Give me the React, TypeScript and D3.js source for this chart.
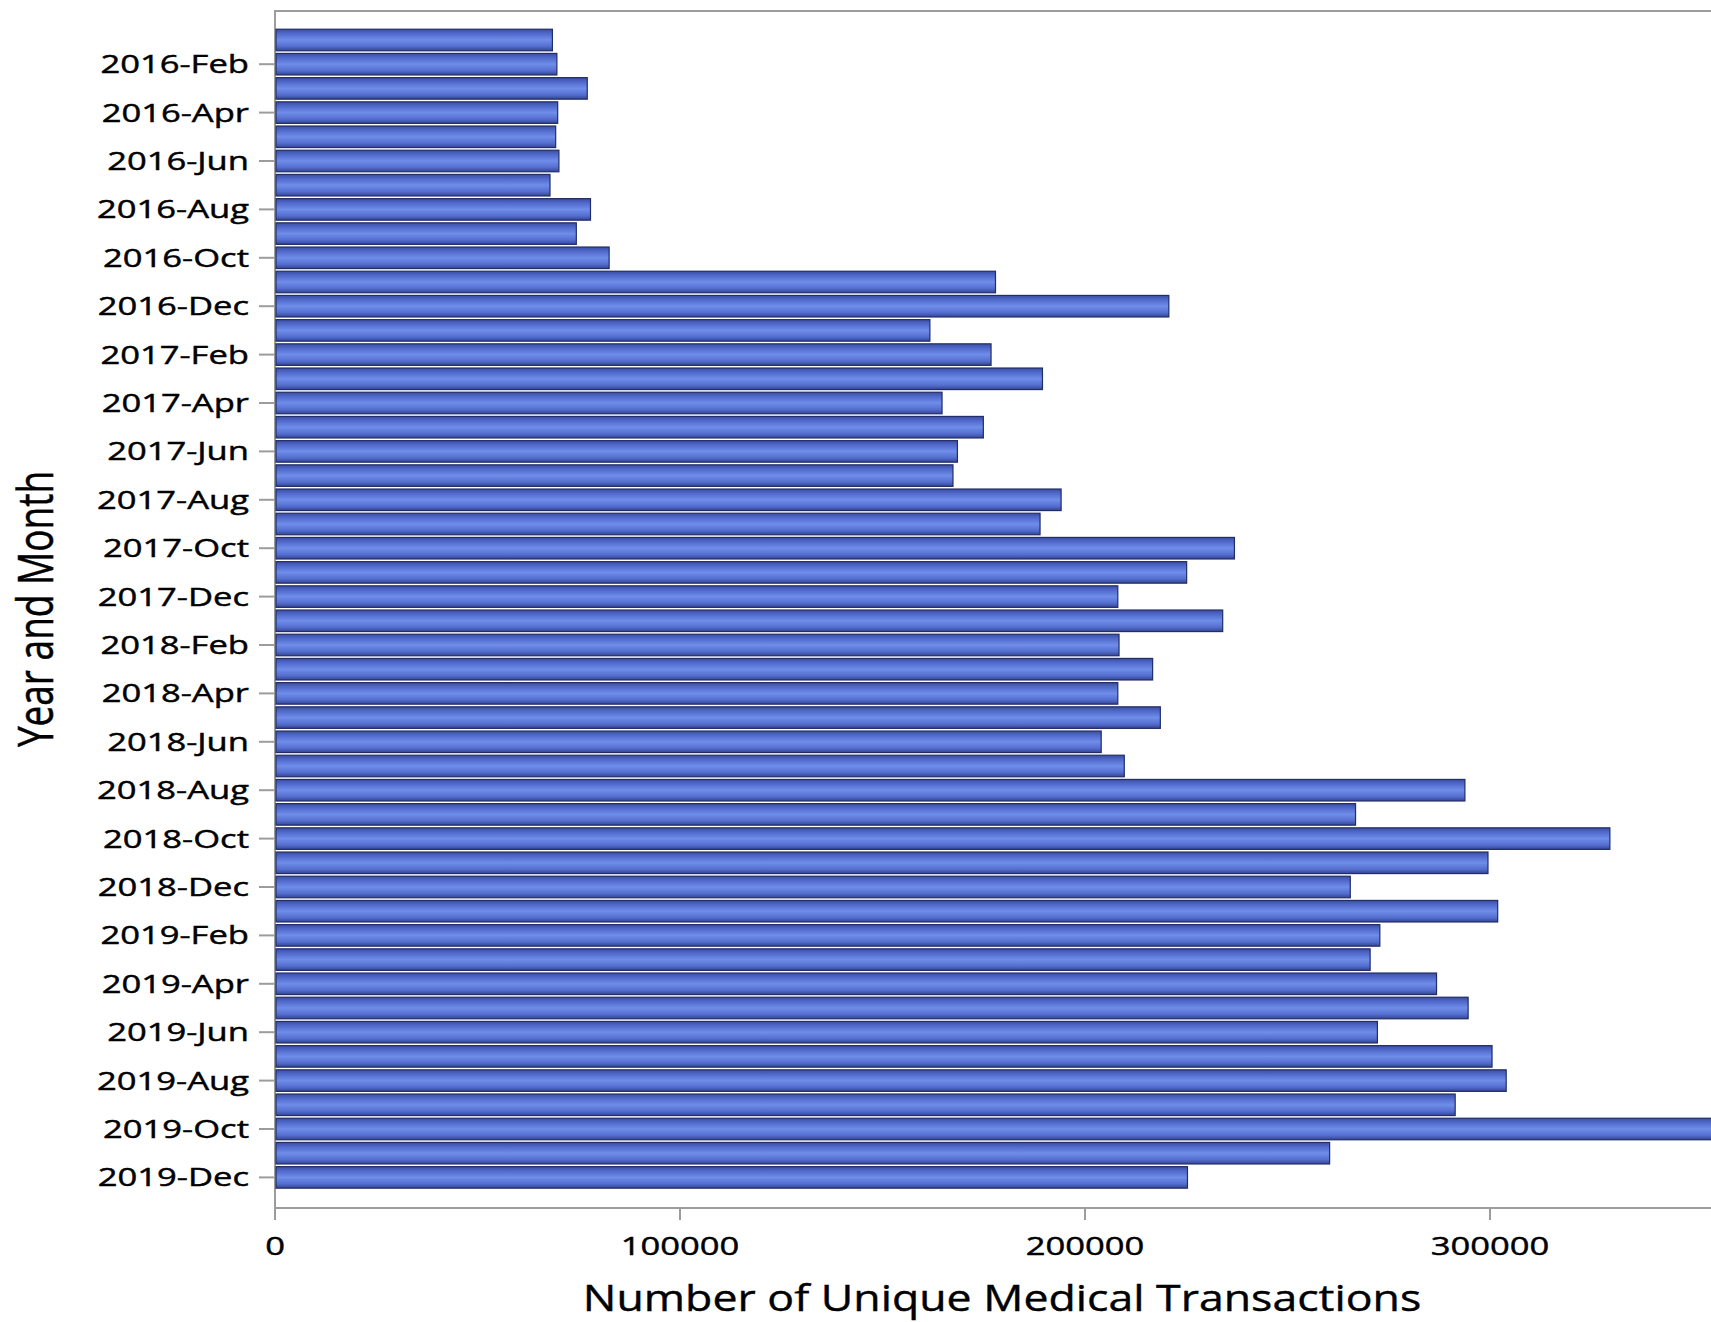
import React from "react";
import * as d3 from "d3";

const months: string[] = [
  "2016-Jan","2016-Feb","2016-Mar","2016-Apr","2016-May","2016-Jun","2016-Jul","2016-Aug","2016-Sep","2016-Oct","2016-Nov","2016-Dec",
  "2017-Jan","2017-Feb","2017-Mar","2017-Apr","2017-May","2017-Jun","2017-Jul","2017-Aug","2017-Sep","2017-Oct","2017-Nov","2017-Dec",
  "2018-Jan","2018-Feb","2018-Mar","2018-Apr","2018-May","2018-Jun","2018-Jul","2018-Aug","2018-Sep","2018-Oct","2018-Nov","2018-Dec",
  "2019-Jan","2019-Feb","2019-Mar","2019-Apr","2019-May","2019-Jun","2019-Jul","2019-Aug","2019-Sep","2019-Oct","2019-Nov","2019-Dec",
];

const transactions: number[] = [
  68500, 69600, 77100, 69800, 69300, 70100, 67900, 77900, 74400, 82500, 177900, 220700,
  161700, 176800, 189500, 164700, 174900, 168500, 167400, 194100, 188900, 236900, 225100, 208100,
  234000, 208400, 216700, 208100, 218600, 204000, 209700, 293800, 266800, 329600, 299500, 265500,
  301900, 272800, 270400, 286800, 294600, 272200, 300500, 304000, 291400, 372000, 260400, 225300,
];

const xTicks: number[] = [0, 100000, 200000, 300000];
const yTickLabels: string[] = months.filter((_, i) => i % 2 === 1);

const W = 1711;
const H = 1322;
const left = 275;
const top = 11;
const bottom = 1208;
const SX = 1.33;
const FONT = "'Open Sans', 'Noto Sans', sans-serif";
const AXIS = "#9c9c9c";

export default function App() {
  const x = d3.scaleLinear().domain([0, 100000]).range([left, left + 405]);
  const step = 24.2;
  const y = d3
    .scaleBand<string>()
    .domain(months)
    .range([40 - step / 2, 40 - step / 2 + months.length * step])
    .paddingInner(0.11)
    .paddingOuter(0.055);

  return (
    <svg
      width={W}
      height={H}
      style={{ position: "absolute", left: 0, top: 0, background: "#fff" }}
    >
      <defs>
        <linearGradient id="barGrad" x1="0" y1="0" x2="0" y2="1">
          <stop offset="0" stopColor="#3a4ea3" />
          <stop offset="0.2" stopColor="#5069cb" />
          <stop offset="0.5" stopColor="#708de9" />
          <stop offset="0.8" stopColor="#546ecf" />
          <stop offset="1" stopColor="#334593" />
        </linearGradient>
      </defs>
      <rect x={0} y={0} width={W} height={H} fill="#fff" />
      {/* frame */}
      <line x1={left} x2={W} y1={top} y2={top} stroke={AXIS} strokeWidth={2} />
      <line x1={left} x2={W} y1={bottom} y2={bottom} stroke={AXIS} strokeWidth={2} />
      <line x1={left} x2={left} y1={top - 1} y2={bottom + 12} stroke={AXIS} strokeWidth={2} />
      {/* bars */}
      {months.map((m, i) => (
        <rect
          key={m}
          x={x(0) + 1}
          y={y(m)!}
          width={x(transactions[i]) - x(0) - 1}
          height={y.bandwidth()}
          fill="url(#barGrad)"
          stroke="#222d66"
          strokeWidth={1.2}
        />
      ))}
      {/* y ticks */}
      {yTickLabels.map((m) => {
        const cy = (y(m) as number) + y.bandwidth() / 2;
        return (
          <g key={m}>
            <line x1={left - 16} x2={left} y1={cy} y2={cy} stroke={AXIS} strokeWidth={2} />
            <text
              transform={`translate(${left - 26},${cy + 9}) scale(${SX},1)`}
              textAnchor="end"
              fontFamily={FONT}
              fontSize={26}
              fill="#000"
              stroke="#000"
              strokeWidth={0.45}
            >
              {m}
            </text>
          </g>
        );
      })}
      {/* x ticks */}
      {xTicks.map((t) => (
        <g key={t}>
          <line x1={x(t)} x2={x(t)} y1={bottom} y2={bottom + 12} stroke={AXIS} strokeWidth={2} />
          <text
            transform={`translate(${x(t)},${1255}) scale(${SX},1)`}
            textAnchor="middle"
            fontFamily={FONT}
            fontSize={26}
            fill="#000"
            stroke="#000"
            strokeWidth={0.45}
          >
            {d3.format("d")(t)}
          </text>
        </g>
      ))}
      {/* axis titles */}
      <text
        transform={`translate(1002,1311) scale(1.24,1)`}
        textAnchor="middle"
        fontFamily={FONT}
        fontSize={36}
        fill="#000"
        stroke="#000"
        strokeWidth={0.4}
      >
        Number of Unique Medical Transactions
      </text>
      <text
        transform={`translate(53,609) scale(${SX},1) rotate(-90)`}
        textAnchor="middle"
        fontFamily={FONT}
        fontSize={37}
        fill="#000"
        stroke="#000"
        strokeWidth={0.4}
      >
        Year and Month
      </text>
    </svg>
  );
}
